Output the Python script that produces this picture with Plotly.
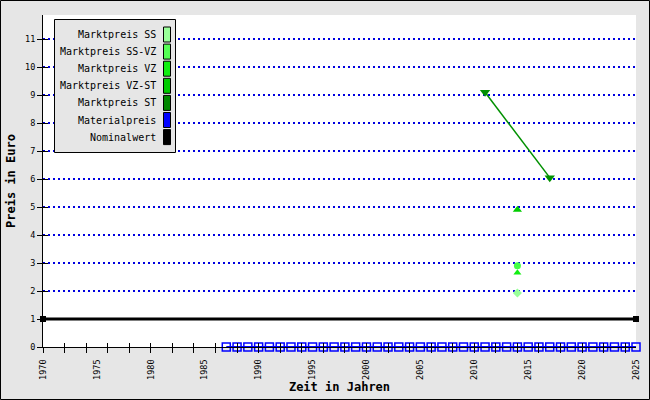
import plotly.graph_objects as go

# ---------------- data ----------------
years_material = list(range(1987, 2026))
material_values = [0.0] * len(years_material)

years_nominal = [1970, 2025]
nominal_values = [1.0, 1.0]

years_st = [2011, 2017]
st_values = [9.1, 6.05]

years_vzst = [2014]
vzst_values = [4.9]

years_ssvz = [2014]
ssvz_values = [2.9]

years_vz = [2014]
vz_values = [2.65]

years_ss = [2014]
ss_values = [1.93]

legend_names = ["Marktpreis SS", "Marktpreis SS-VZ", "Marktpreis VZ", "Marktpreis VZ-ST",
                "Marktpreis ST", "Materialpreis", "Nominalwert"]
legend_colors = ["#99ff99", "#55ff55", "#11ee11", "#00cc00", "#008800", "#0000ff", "#000000"]

x_label_years = list(range(1970, 2026, 5))
x_tick_years = list(range(1970, 2026, 2))
y_ticks = list(range(0, 12))

# ---------------- layout geometry (pixels) ----------------
W, H = 650, 400
L, R, T, B = 43, 14, 15, 53
PW, PH = W - L - R, H - T - B


def px(xp):
    return (xp - L) / PW


def py(yp):
    return (H - B - yp) / PH


FONT = "DejaVu Sans Mono"
XR = [1970, 2025]
YR = [0, 11.86]

fig = go.Figure()

fig.add_trace(go.Scatter(x=years_material, y=material_values, mode="lines+markers",
                         line=dict(color="#0000ff", width=2),
                         marker=dict(symbol="square-open", size=8, color="#0000ff",
                                     line=dict(width=1.5, color="#0000ff")),
                         name="Materialpreis", xaxis="x2", yaxis="y", cliponaxis=False))
fig.add_trace(go.Scatter(x=years_nominal, y=nominal_values, mode="lines+markers",
                         line=dict(color="#000000", width=3),
                         marker=dict(symbol="square", size=6, color="#000000"),
                         name="Nominalwert", xaxis="x3", yaxis="y2", cliponaxis=False))
fig.add_trace(go.Scatter(x=years_st, y=st_values, mode="lines+markers",
                         line=dict(color="#009000", width=1.5),
                         marker=dict(symbol="triangle-down", size=9, color="#009000"),
                         name="Marktpreis ST"))
fig.add_trace(go.Scatter(x=years_vzst, y=vzst_values, mode="markers",
                         marker=dict(symbol="triangle-up", size=8, color="#00cc00"),
                         name="Marktpreis VZ-ST"))
fig.add_trace(go.Scatter(x=years_vz, y=vz_values, mode="markers",
                         marker=dict(symbol="triangle-up", size=7, color="#11ee11"),
                         name="Marktpreis VZ"))
fig.add_trace(go.Scatter(x=years_ssvz, y=ssvz_values, mode="markers",
                         marker=dict(symbol="circle", size=7, color="#44ff44"),
                         name="Marktpreis SS-VZ"))
fig.add_trace(go.Scatter(x=years_ss, y=ss_values, mode="markers",
                         marker=dict(symbol="diamond", size=7, color="#99ff99"),
                         name="Marktpreis SS"))

tickfont = dict(family=FONT, size=8.5, color="#000000")
titlefont = dict(family=FONT, size=12, color="#000000", weight="bold")

fig.update_layout(
    width=W, height=H,
    margin=dict(l=L, r=R, t=T, b=B, autoexpand=False),
    paper_bgcolor="#e6e6e6",
    plot_bgcolor="#ffffff",
    showlegend=False,
    font=dict(family=FONT, size=10, color="#000000"),
    xaxis=dict(range=XR, tickmode="array", tickvals=x_label_years,
               ticktext=[str(v) for v in x_label_years], tickangle=-90,
               ticks="", tickfont=tickfont, ticklabelstandoff=8,
               showline=True, linecolor="#000000", linewidth=1,
               showgrid=False, zeroline=False, fixedrange=True,
               title=dict(text="Zeit in Jahren", font=titlefont, standoff=3),
               automargin=False),
    xaxis2=dict(range=XR, overlaying="x", anchor="y", side="bottom",
                tickmode="array", tickvals=x_tick_years, ticks="outside", ticklen=5,
                tickcolor="#000000", tickwidth=1,
                showticklabels=False, showline=False, showgrid=False, zeroline=False),
    xaxis3=dict(range=XR, overlaying="x", anchor="y", side="bottom",
                tickmode="array", tickvals=x_tick_years, ticks="inside", ticklen=4,
                tickcolor="#000000", tickwidth=1,
                showticklabels=False, showline=False, showgrid=False, zeroline=False),
    yaxis=dict(range=YR, tickmode="array", tickvals=y_ticks,
               ticktext=[str(v) for v in y_ticks], ticks="outside", ticklen=5,
               tickcolor="#000000", tickfont=tickfont,
               showline=True, linecolor="#000000", linewidth=1,
               showgrid=True, gridcolor="#0000e0", gridwidth=1.5, griddash="2px,3px",
               zeroline=False, fixedrange=True,
               title=dict(text="Preis in Euro", font=titlefont, standoff=6),
               automargin=False),
    yaxis2=dict(range=YR, overlaying="y", anchor="x", side="left",
                tickmode="array", tickvals=y_ticks, ticks="inside", ticklen=5,
                tickcolor="#000000", showticklabels=False, showline=False,
                showgrid=False, zeroline=False),
)

shapes = []
annotations = []
# custom legend box (text right-aligned, swatch on the right)
shapes.append(dict(type="rect", xref="paper", yref="paper",
                   x0=px(54.5), x1=px(175.5), y0=py(152.5), y1=py(19.5),
                   fillcolor="#e6e6e6", line=dict(color="#000000", width=1), layer="above"))
for i, (name, col) in enumerate(zip(legend_names, legend_colors)):
    top = 27 + 17.1 * i
    shapes.append(dict(type="rect", xref="paper", yref="paper",
                       x0=px(163.5), x1=px(170.5), y0=py(top + 15), y1=py(top),
                       fillcolor=col, line=dict(color="#000000", width=1), layer="above"))
    annotations.append(dict(text=name, xref="paper", yref="paper",
                            x=px(158), y=py(top + 7.5), xanchor="right", yanchor="middle",
                            showarrow=False, font=dict(family=FONT, size=10, color="#000000")))
# outer frame
shapes.append(dict(type="rect", xref="paper", yref="paper",
                   x0=px(0.5), x1=px(649.5), y0=py(399.5), y1=py(0.5),
                   line=dict(color="#000000", width=1), layer="above"))

fig.update_layout(shapes=shapes, annotations=annotations)

fig.write_html("out.html", config={"displayModeBar": False},
               post_script="document.body.style.margin='0';document.body.style.overflow='hidden';")
